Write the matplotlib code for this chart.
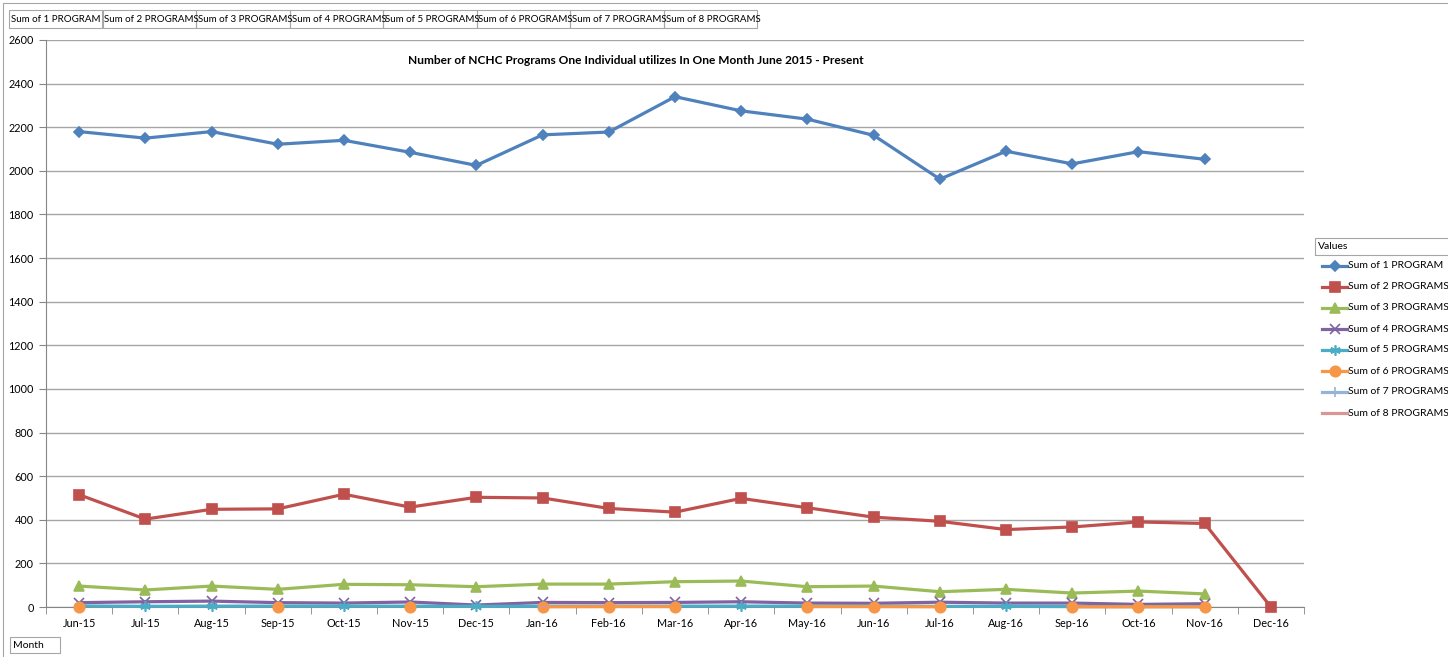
import numpy as np
import matplotlib
matplotlib.use("Agg")
from matplotlib import pyplot as plt
from matplotlib.patches import Rectangle
from matplotlib.lines import Line2D

nan = np.nan

# meses (eixo x)
months = ["Jun-15", "Jul-15", "Aug-15", "Sep-15", "Oct-15", "Nov-15", "Dec-15",
          "Jan-16", "Feb-16", "Mar-16", "Apr-16", "May-16", "Jun-16", "Jul-16",
          "Aug-16", "Sep-16", "Oct-16", "Nov-16", "Dec-16"]

# valores
sum1 = [2180, 2150, 2180, 2122, 2140, 2085, 2025, 2165, 2178, 2340, 2275, 2237,
        2163, 1962, 2090, 2032, 2088, 2053, nan]
sum2 = [515, 403, 448, 450, 517, 458, 503, 500, 452, 435, 498, 455,
        412, 393, 355, 367, 390, 383, 0]
sum3 = [96, 78, 96, 81, 104, 102, 93, 105, 105, 116, 119, 93,
        96, 70, 81, 64, 73, 60, nan]
sum4 = [20, 24, 27, 20, 18, 23, 9, 21, 20, 21, 24, 18,
        17, 22, 18, 18, 12, 15, nan]
sum5 = [5, 3, 4, 4, 4, 4, 3, 4, 4, 4, 4, 4,
        5, 3, 3, 2, 2, 2, nan]
sum6 = [1, nan, nan, 1, nan, 2, nan, 1, 2, 2, nan, 2,
        2, 1, nan, 1, 1, 1, nan]
sum7 = [nan] * 19
sum8 = [nan, nan, nan, nan, nan, nan, nan, 1, nan, nan, nan, nan,
        nan, nan, nan, nan, nan, nan, nan]

series_names = ["Sum of 1 PROGRAM", "Sum of 2 PROGRAMS", "Sum of 3 PROGRAMS",
                "Sum of 4 PROGRAMS", "Sum of 5 PROGRAMS", "Sum of 6 PROGRAMS",
                "Sum of 7 PROGRAMS", "Sum of 8 PROGRAMS"]
series = [sum1, sum2, sum3, sum4, sum5, sum6, sum7, sum8]

colors = ["#4F81BD", "#C0504D", "#9BBB59", "#8064A2", "#4BACC6", "#F79646",
          "#95B3D7", "#D99694"]
markers = ["D", "s", "^", "x", (6, 2, 0), "o", "+", "_"]
msizes = [5.5, 6.5, 6.5, 6.5, 7.5, 7.5, 7.5, 6.5]

W, H = 1448, 657
plt.rcParams['font.family'] = ['Lato', 'DejaVu Sans']


def fx(px):
    return px / W


def fy(py):
    return 1 - py / H


fig = plt.figure(figsize=(W / 100, H / 100), dpi=100)
ax = fig.add_axes([fx(46), fy(607), fx(1304) - fx(46), fy(40) - fy(607)])

x = np.arange(len(months))
for vals, name, c, m, ms in zip(series, series_names, colors, markers, msizes):
    ax.plot(x, vals, color=c, lw=2.3, marker=m, markersize=ms,
            markerfacecolor=c, markeredgecolor=c, markeredgewidth=1.2,
            label=name, clip_on=False, zorder=3)

ax.set_xlim(-0.5, len(months) - 0.5)
ax.set_ylim(0, 2600)
ax.set_yticks(np.arange(0, 2601, 200))
ax.set_xticks(x)
ax.set_xticklabels(months)
ax.set_xticks(np.arange(-0.5, len(months), 1), minor=True)
ax.tick_params(axis="x", which="major", length=0, pad=8, labelsize=7.8)
ax.tick_params(axis="x", which="minor", length=5, color="#868686", direction="out")
ax.tick_params(axis="y", length=5, color="#868686", labelsize=7.8, pad=4)
ax.yaxis.grid(True, color="#A6A6A6", lw=1)
ax.set_axisbelow(True)
for s in ["top", "right"]:
    ax.spines[s].set_visible(False)
for s in ["left", "bottom"]:
    ax.spines[s].set_color("#868686")

# titulo
fig.text(fx(636), fy(60), "Number of NCHC Programs One Individual utilizes In One Month June 2015 - Present",
         ha="center", va="center", fontsize=8.6, fontweight="bold")

# botoes de campo (pivot)
bw = (757 - 9) / 8
for i, name in enumerate(series_names):
    x0 = 9 + i * bw
    fig.add_artist(Rectangle((fx(x0), fy(28)), fx(bw), fy(10) - fy(28),
                             transform=fig.transFigure, fill=False, ec="#A6A6A6", lw=0.8))
    fig.text(fx(x0 + 2), fy(19), name, ha="left", va="center", fontsize=7)

# legenda
fig.add_artist(Rectangle((fx(1315), fy(255)), fx(140), fy(238) - fy(255),
                         transform=fig.transFigure, fill=False, ec="#A6A6A6", lw=0.8))
fig.text(fx(1318), fy(246.5), "Values", ha="left", va="center", fontsize=7.5)
for i, (name, c, m, ms) in enumerate(zip(series_names, colors, markers, msizes)):
    yy = fy(266 + i * 21)
    fig.add_artist(Line2D([fx(1322), fx(1334.5), fx(1347)], [yy, yy, yy],
                          transform=fig.transFigure, color=c, lw=2.3, marker=m,
                          markersize=ms, markevery=[1], markerfacecolor=c,
                          markeredgecolor=c, markeredgewidth=1.2))
    fig.text(fx(1348), yy, name, ha="left", va="center", fontsize=7.5)

# campo de eixo
fig.add_artist(Rectangle((fx(10), fy(653)), fx(50), fy(637) - fy(653),
                         transform=fig.transFigure, fill=False, ec="#A6A6A6", lw=0.8))
fig.text(fx(13), fy(645), "Month", ha="left", va="center", fontsize=7.5)

# borda externa
fig.add_artist(Line2D([fx(3), fx(3), fx(W)], [fy(H), fy(3), fy(3)],
                      transform=fig.transFigure, color="#A6A6A6", lw=0.8))

fig.savefig("out.png", dpi=100)
